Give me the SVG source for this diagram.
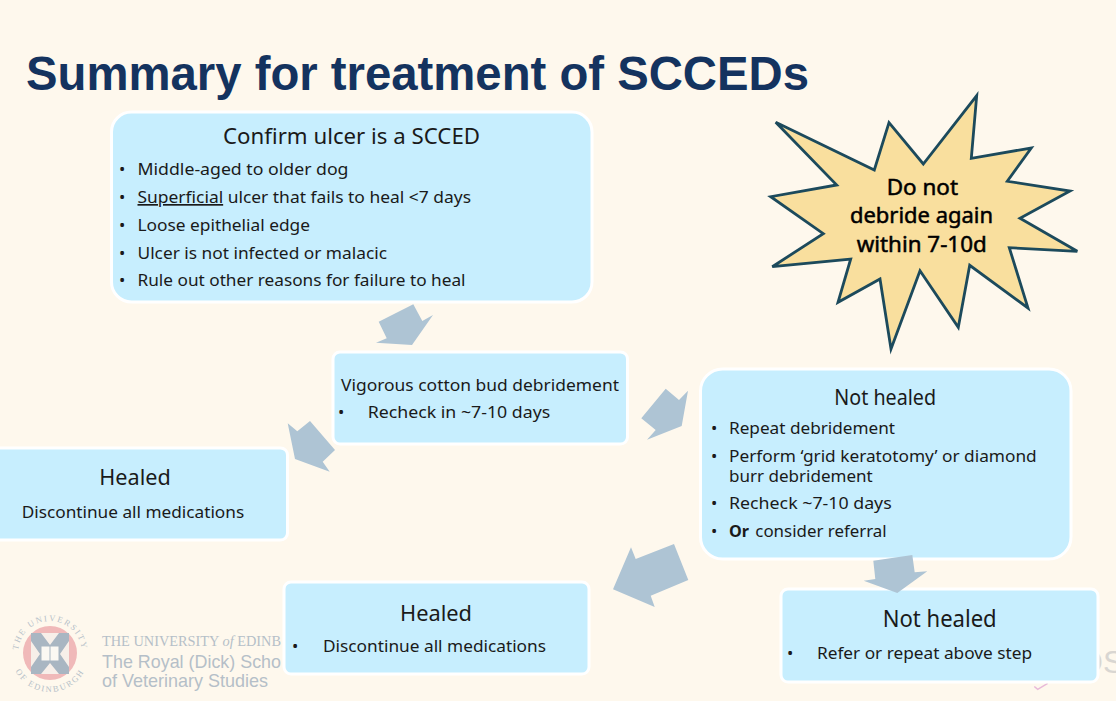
<svg xmlns="http://www.w3.org/2000/svg" xmlns:xlink="http://www.w3.org/1999/xlink" width="1116" height="704" viewBox="0 0 1116 704">
<style>
.box{fill:#c7eefe;stroke:#ffffff;stroke-width:3}
.t{font-family:"Noto Sans","Open Sans","DejaVu Sans",sans-serif;fill:#1a1a1a}
.h{font-size:22px}
.b{font-size:16.8px}
.s{font-size:21.5px;fill:#000;stroke:#000;stroke-width:.5}
.arrow{fill:#aec4d4}
.logo{font-family:"Liberation Sans",Arial,sans-serif;fill:#b5bfc8}
.serif{font-family:"Liberation Serif","Times New Roman",serif}
</style>
<defs>
<path id="ringTop" d="M18,653 A32,32 0 0 1 82,653"/>
<path id="ringBottom" d="M11,653 A39,39 0 0 0 89,653"/>
</defs>
<rect width="1116" height="704" fill="#ffffff"/>
<rect width="1116" height="701" fill="#fef8ed"/>
<g id="logo">
<text class="logo serif" font-size="8.5" letter-spacing="1.8"><textPath xlink:href="#ringTop" startOffset="50%" text-anchor="middle">THE UNIVERSITY</textPath></text>
<text class="logo serif" font-size="8.5" letter-spacing="1.8"><textPath xlink:href="#ringBottom" startOffset="50%" text-anchor="middle">OF EDINBURGH</textPath></text>
<circle cx="50" cy="653" r="27" fill="#f0b9b9"/>
<rect x="31" y="633" width="38" height="41" fill="#f7efe9"/>
<path d="M31,633 H41 L50,645 L59,633 H69 V641 L60,654 L69,667 V674 H59 L50,663 L41,674 H31 V667 L40,654 L31,641Z" fill="#a9b6c2"/>
<rect x="41" y="646" width="18" height="15" fill="#fbf8f3" stroke="#a9b6c2"/>
<path d="M50,646 V661" stroke="#a9b6c2"/>
<text class="logo serif" x="102" y="646" font-size="14.5" textLength="179" lengthAdjust="spacingAndGlyphs">THE UNIVERSITY <tspan font-style="italic">of</tspan> EDINB</text>
<text class="logo" x="102" y="668" font-size="19" textLength="179" lengthAdjust="spacingAndGlyphs">The Royal (Dick) Scho</text>
<text class="logo" x="102" y="687" font-size="19" textLength="166" lengthAdjust="spacingAndGlyphs">of Veterinary Studies</text>
<text x="1078" y="673" font-size="32" font-family="Liberation Sans,Arial,sans-serif" fill="#d9d6d2">OS</text>
<polyline points="1034.3,686.5 1037.7,689.3 1047.7,683.3" fill="none" stroke="#e8b9d8" stroke-width="1.5"/>
</g>
<text id="title" x="26" y="90" font-family="Liberation Sans,Arial,sans-serif" font-weight="700" font-size="48" fill="#14335f" textLength="783" lengthAdjust="spacingAndGlyphs">Summary for treatment of SCCEDs</text>
<g id="confirm">
<rect class="box" x="111.5" y="112" width="480.5" height="190" rx="20"/>
<text class="t h" x="223" y="144" textLength="257" lengthAdjust="spacingAndGlyphs">Confirm ulcer is a SCCED</text>
<g class="t b">
<text x="119" y="175">•</text><text x="137.5" y="175" textLength="211" lengthAdjust="spacingAndGlyphs">Middle-aged to older dog</text>
<text x="119" y="203">•</text><text x="137.5" y="203" textLength="333.5" lengthAdjust="spacingAndGlyphs"><tspan text-decoration="underline">Superficial</tspan> ulcer that fails to heal &lt;7 days</text>
<text x="119" y="231">•</text><text x="137.5" y="231" textLength="172.5" lengthAdjust="spacingAndGlyphs">Loose epithelial edge</text>
<text x="119" y="259">•</text><text x="137.5" y="259" textLength="249.5" lengthAdjust="spacingAndGlyphs">Ulcer is not infected or malacic</text>
<text x="119" y="286">•</text><text x="137.5" y="286" textLength="328" lengthAdjust="spacingAndGlyphs">Rule out other reasons for failure to heal</text>
</g>
</g>
<g id="debridement">
<rect class="box" x="333" y="352" width="294.5" height="92" rx="7"/>
<g class="t b">
<text x="341" y="391" textLength="278" lengthAdjust="spacingAndGlyphs">Vigorous cotton bud debridement</text>
<text x="338" y="417.5">•</text><text x="367.7" y="417.5" textLength="182.5" lengthAdjust="spacingAndGlyphs">Recheck in ~7-10 days</text>
</g>
</g>
<g id="healed-1">
<rect class="box" x="-8" y="448" width="295.5" height="92" rx="7"/>
<text class="t h" x="99.3" y="485.3" textLength="71.5" lengthAdjust="spacingAndGlyphs">Healed</text>
<text class="t b" x="21.7" y="517.5" textLength="222.5" lengthAdjust="spacingAndGlyphs">Discontinue all medications</text>
</g>
<g id="not-healed-1">
<rect class="box" x="700.5" y="369" width="370.5" height="190" rx="22"/>
<text class="t h" x="834.3" y="405" textLength="101.7" lengthAdjust="spacingAndGlyphs">Not healed</text>
<g class="t b">
<text x="711" y="434">•</text><text x="729" y="434" textLength="166" lengthAdjust="spacingAndGlyphs">Repeat debridement</text>
<text x="711" y="461.7">•</text><text x="729" y="461.7" textLength="307.7" lengthAdjust="spacingAndGlyphs">Perform ‘grid keratotomy’ or diamond</text>
<text x="729" y="481.7" textLength="143.7" lengthAdjust="spacingAndGlyphs">burr debridement</text>
<text x="711" y="508.7">•</text><text x="729" y="508.7" textLength="162.7" lengthAdjust="spacingAndGlyphs">Recheck ~7-10 days</text>
<text x="711" y="536.7">•</text><text x="729" y="536.7" font-weight="700" textLength="20" lengthAdjust="spacingAndGlyphs">Or</text><text x="755.3" y="536.7" textLength="131.4" lengthAdjust="spacingAndGlyphs">consider referral</text>
</g>
</g>
<g id="healed-2">
<rect class="box" x="284" y="582" width="305" height="92" rx="7"/>
<text class="t h" x="400" y="620.5" textLength="72" lengthAdjust="spacingAndGlyphs">Healed</text>
<g class="t b">
<text x="292" y="652">•</text><text x="323" y="652" textLength="223" lengthAdjust="spacingAndGlyphs">Discontinue all medications</text>
</g>
</g>
<g id="not-healed-2">
<rect class="box" x="781" y="589" width="317" height="93" rx="7"/>
<text class="t h" style="font-size:23px" x="882.7" y="627.3" textLength="114" lengthAdjust="spacingAndGlyphs">Not healed</text>
<g class="t b">
<text x="787" y="659">•</text><text x="817" y="659" textLength="215" lengthAdjust="spacingAndGlyphs">Refer or repeat above step</text>
</g>
</g>
<g id="warning">
<polygon points="775.7,122.3 874.3,170 889,122.7 923.3,164 976.7,95.7 971.3,158.3 1031.3,148 1007.3,181.3 1070,191 1020,218.3 1077.3,251.3 1009.3,247.7 1028,308 969.7,265.3 958.3,327.3 920,270.7 891,349 880,279 838,302.3 850.7,259 772.3,266.7 823.3,233.7 770.7,196.7 836.7,185" fill="#f9df9e" stroke="#1c4a5c" stroke-width="2.8" stroke-linejoin="miter"/>
<g class="t s">
<text x="886.7" y="195" textLength="71.3" lengthAdjust="spacingAndGlyphs">Do not</text>
<text x="850" y="223.3" textLength="143" lengthAdjust="spacingAndGlyphs">debride again</text>
<text x="856.7" y="251.7" textLength="130" lengthAdjust="spacingAndGlyphs">within 7-10d</text>
</g>
</g>
<g id="connectors">
<polygon class="arrow" points="413.3,304.3 422.3,321 433,315 412,345 376,342.7 386.7,338.3 378.7,321.7"/>
<polygon class="arrow" points="665.7,388.7 679,400 688,390.7 681.7,426 647,439.7 655.7,430 641.3,418.3"/>
<polygon class="arrow" points="310,421 335,450 322.7,461.7 329.7,471.7 295,459 287.7,423.3 297.3,431.3"/>
<polygon class="arrow" points="674,544 688.3,580 650.7,595.7 654.7,607 613,589.3 631,547.3 635.7,559"/>
<polygon class="arrow" points="873.3,560.7 912.3,555 914.7,572.3 927.3,571.3 897.3,593 863.7,580.7 875.3,579"/>
</g>
</svg>
